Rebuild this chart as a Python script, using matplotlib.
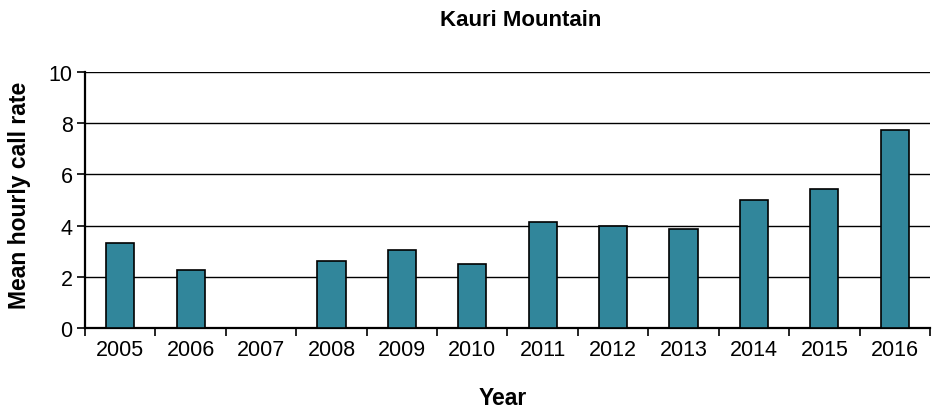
import matplotlib.pyplot as plt
import numpy as np

plt.rcParams['font.family'] = ['Liberation Sans', 'DejaVu Sans']

years = ['2005', '2006', '2007', '2008', '2009', '2010',
         '2011', '2012', '2013', '2014', '2015', '2016']
call_rate = [3.33, 2.27, 0, 2.63, 3.06, 2.5, 4.13, 4.0, 3.87, 5.0, 5.44, 7.75]
yticks = [0, 2, 4, 6, 8, 10]

fig = plt.figure(figsize=(9.32, 4.10), dpi=100)
ax = fig.add_axes([85/932, 81/410, 845/932, 256/410])

x = np.arange(len(years))
ax.bar(x, call_rate, width=0.4, color='#31869B', edgecolor='black',
       linewidth=1.2, zorder=3)

ax.set_xlim(-0.5, len(years) - 0.5)
ax.set_ylim(0, 10)
ax.set_yticks(yticks)
ax.yaxis.grid(True, color='black', linewidth=1.0, zorder=0)
ax.set_axisbelow(True)

# category labels centred, tick marks between categories
ax.set_xticks(x)
ax.set_xticklabels(years, fontsize=15.5)
ax.tick_params(axis='x', length=0, pad=8)
ax.set_xticks(np.arange(len(years) + 1) - 0.5, minor=True)
ax.tick_params(axis='x', which='minor', length=6, width=1.2, direction='out')
ax.tick_params(axis='y', labelsize=15.5, length=6, width=1.2, pad=3)

for s in ['top', 'right']:
    ax.spines[s].set_visible(False)
for s in ['left', 'bottom']:
    ax.spines[s].set_linewidth(1.6)

fig.text(521/932, 1 - 20/410, 'Kauri Mountain', ha='center', va='center',
         fontsize=16, fontweight='bold')
fig.text(20/932, 1 - 195/410, 'Mean hourly call rate', ha='center',
         va='center', rotation=90, fontsize=16.5, fontweight='bold')
fig.text(503/932, 1 - 399/410, 'Year', ha='center', va='center',
         fontsize=16.5, fontweight='bold')

fig.savefig('out.png', dpi=100)
